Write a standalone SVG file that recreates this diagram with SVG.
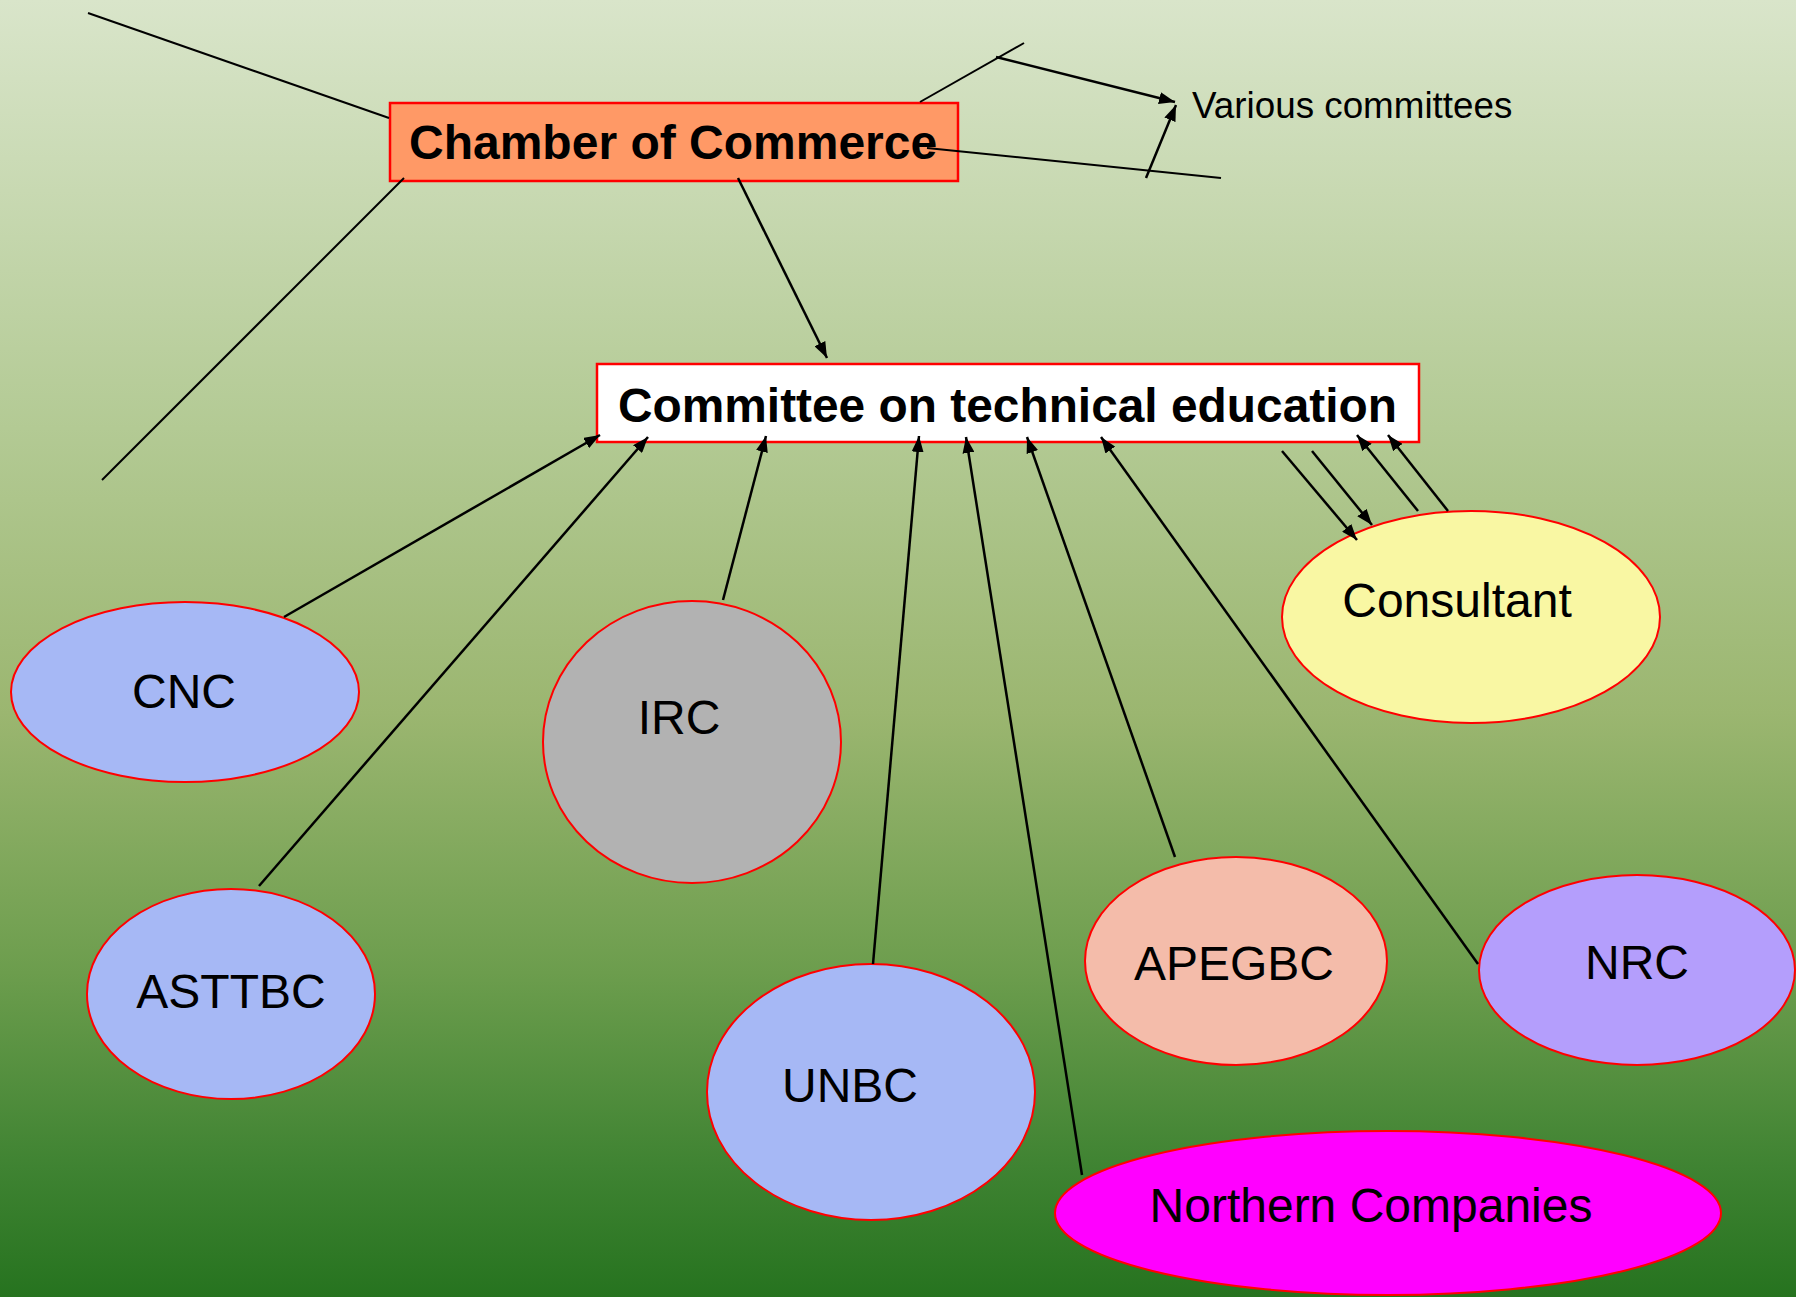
<svg xmlns="http://www.w3.org/2000/svg" width="1796" height="1297" viewBox="0 0 1796 1297">
<defs>
<linearGradient id="bg" x1="0" y1="0" x2="0" y2="1">
<stop offset="0" stop-color="#D9E5CA"/>
<stop offset="0.33" stop-color="#B3CA94"/>
<stop offset="0.55" stop-color="#9BB670"/>
<stop offset="0.75" stop-color="#6C9D4D"/>
<stop offset="0.9" stop-color="#3F8332"/>
<stop offset="1" stop-color="#26731F"/>
</linearGradient>
<marker id="ah" viewBox="0 0 16 12" refX="16" refY="6" markerWidth="16" markerHeight="12" markerUnits="userSpaceOnUse" orient="auto">
<path d="M0,0 L16,6 L0,12 z" fill="#000"/>
</marker>
</defs>
<style>
.box{stroke:#FF0000;stroke-width:2.5}
.ell{stroke:#FF0000;stroke-width:2}
.bt{font-family:"Liberation Sans",Arial,sans-serif;font-weight:bold;font-size:48px;fill:#000}
.t{font-family:"Liberation Sans",Arial,sans-serif;font-size:48px;fill:#000;text-anchor:middle}
.s{font-family:"Liberation Sans",Arial,sans-serif;font-size:36.8px;fill:#000}
.c{stroke:#000;stroke-width:2.5;fill:none}
.a{stroke:#000;stroke-width:2.5;fill:none;marker-end:url(#ah)}
.l{stroke:#000;stroke-width:2;fill:none}
</style>
<rect x="0" y="0" width="1796" height="1297" fill="url(#bg)"/>

<g id="chamber">
<rect class="box" x="390" y="103" width="568" height="78" fill="#FF9966"/>
<text class="bt" x="409" y="159">Chamber of Commerce</text>
</g>
<g id="committee">
<rect class="box" x="597" y="364" width="822" height="78" fill="#FFFFFF"/>
<text class="bt" x="618" y="422" style="font-size:47.85px">Committee on technical education</text>
</g>
<g id="various">
<text class="s" x="1192" y="118">Various committees</text>
</g>
<g id="cnc">
<ellipse class="ell" cx="185" cy="692" rx="174" ry="90" fill="#A6B8F5"/>
<text class="t" x="184" y="708">CNC</text>
</g>
<g id="irc">
<ellipse class="ell" cx="692" cy="742" rx="149" ry="141" fill="#B2B2B2"/>
<text class="t" x="679" y="734">IRC</text>
</g>
<g id="asttbc">
<ellipse class="ell" cx="231" cy="994" rx="144" ry="105" fill="#A6B8F5"/>
<text class="t" x="231" y="1008">ASTTBC</text>
</g>
<g id="unbc">
<ellipse class="ell" cx="871" cy="1092" rx="164" ry="128" fill="#A6B8F5"/>
<text class="t" x="850" y="1102">UNBC</text>
</g>
<g id="apegbc">
<ellipse class="ell" cx="1236" cy="961" rx="151" ry="104" fill="#F4BCAA"/>
<text class="t" x="1234" y="980">APEGBC</text>
</g>
<g id="nrc">
<ellipse class="ell" cx="1637" cy="970" rx="158" ry="95" fill="#B49EFC"/>
<text class="t" x="1637" y="979">NRC</text>
</g>
<g id="consultant">
<ellipse class="ell" cx="1471" cy="617" rx="189" ry="106" fill="#F9F7A3"/>
<text class="t" x="1457" y="617">Consultant</text>
</g>
<g id="northern">
<ellipse class="ell" cx="1388" cy="1213" rx="333" ry="82" fill="#FF00FF"/>
<text class="t" x="1371" y="1222">Northern Companies</text>
</g>

<g id="connectors">
<line class="l" x1="88" y1="13" x2="389" y2="118"/>
<line class="l" x1="404" y1="178" x2="102" y2="480"/>
<line class="l" x1="920" y1="102" x2="1024" y2="43"/>
<line class="a" x1="996" y1="57" x2="1175" y2="102"/>
<line class="l" x1="927" y1="148" x2="1221" y2="178"/>
<line class="a" x1="1146" y1="178" x2="1176" y2="105"/>
<line class="a" x1="738" y1="178" x2="827" y2="358"/>
<line class="a" x1="284" y1="617" x2="600" y2="435"/>
<line class="a" x1="259" y1="886" x2="648" y2="437"/>
<line class="a" x1="723" y1="600" x2="766" y2="436"/>
<line class="a" x1="873" y1="964" x2="919" y2="436"/>
<line class="a" x1="1082" y1="1175" x2="966" y2="437"/>
<line class="a" x1="1175" y1="857" x2="1027" y2="437"/>
<line class="a" x1="1478" y1="964" x2="1101" y2="437"/>
<line class="a" x1="1282" y1="451" x2="1357" y2="540"/>
<line class="a" x1="1312" y1="451" x2="1372" y2="525"/>
<line class="a" x1="1418" y1="511" x2="1357" y2="435"/>
<line class="a" x1="1448" y1="511" x2="1388" y2="435"/>
</g>
</svg>
